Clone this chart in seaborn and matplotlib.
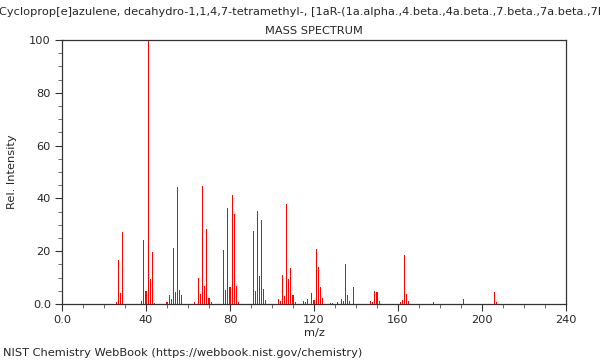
import numpy as np
import pandas as pd
import matplotlib
matplotlib.use("Agg")
import matplotlib.pyplot as plt
import seaborn as sns
from matplotlib.ticker import MultipleLocator, FuncFormatter

compound = ("1H-Cycloprop[e]azulene, decahydro-1,1,4,7-tetramethyl-, "
            "[1aR-(1a.alpha.,4.beta.,4a.beta.,7.beta.,7a.beta.,7b.alpha.)]-")

mz = [26, 27, 28, 29, 38, 39, 40, 41, 42, 43, 44,
      50, 51, 52, 53, 54, 55, 56, 57,
      63, 65, 66, 67, 68, 69, 70, 71,
      77, 78, 79, 80, 81, 82, 83, 84,
      91, 92, 93, 94, 95, 96, 97,
      103, 104, 105, 106, 107, 108, 109, 110, 111,
      115, 116, 117, 119, 120, 121, 122, 123, 124,
      128, 129, 131, 133, 134, 135, 136, 137, 139,
      147, 148, 149, 150, 151,
      161, 162, 163, 164, 165,
      177, 191, 206, 207]
intensity = [0.9, 16.7, 4.3, 27.4, 1.0, 24.2, 5.0, 100.0, 9.5, 19.6, 0.5,
             0.7, 3.4, 1.9, 21.3, 4.5, 44.4, 5.4, 3.4,
             0.8, 9.8, 3.7, 44.8, 6.7, 28.4, 2.3, 0.8,
             20.5, 5.3, 36.4, 6.3, 41.3, 34.1, 6.8, 0.8,
             27.7, 4.9, 35.2, 10.5, 31.8, 5.7, 1.5,
             1.9, 1.0, 11.0, 3.0, 37.9, 9.3, 13.5, 3.5, 0.8,
             1.3, 0.6, 2.0, 4.0, 1.5, 20.8, 14.0, 6.4, 2.3,
             0.5, 0.5, 0.9, 1.8, 1.0, 15.2, 3.5, 1.1, 6.3,
             1.1, 0.7, 4.9, 4.5, 1.0,
             0.7, 1.5, 18.6, 3.8, 1.1,
             0.7, 1.8, 4.5, 0.8]

x_ticks = [0, 40, 80, 120, 160, 200, 240]
y_ticks = [0, 20, 40, 60, 80, 100]

df = pd.DataFrame({"mz": mz, "intensity": intensity})

FS = 8.2
sns.set_theme(style="ticks")
plt.rcParams["font.family"] = ["DejaVu Sans"]
plt.rcParams["font.size"] = FS

fig = plt.figure(figsize=(6, 3.6), dpi=100)
ax = fig.add_axes([62 / 600, 1 - 304 / 360, 504 / 600, 264 / 360])

sns.histplot(data=df, x="mz", weights="intensity", discrete=True, shrink=0.5,
             color="#ff0000", alpha=1.0, linewidth=0, ax=ax)

ax.set_xlim(0, 240)
ax.set_ylim(0, 100)
ax.set_xticks(x_ticks)
ax.set_yticks(y_ticks)
ax.xaxis.set_minor_locator(MultipleLocator(10))
ax.yaxis.set_minor_locator(MultipleLocator(5))
fmt = FuncFormatter(lambda v, p: "0.0" if v == 0 else f"{int(v)}")
ax.xaxis.set_major_formatter(fmt)
ax.yaxis.set_major_formatter(fmt)
ax.tick_params(which="major", length=5, width=0.8, color="#333333", labelsize=FS, pad=3)
ax.tick_params(which="minor", length=3, width=0.6, color="#555555")
for s in ax.spines.values():
    s.set_visible(True)
    s.set_color("#333333")
    s.set_linewidth(0.9)

ax.set_xlabel("m/z", fontsize=FS, labelpad=2)
ax.set_ylabel("Rel. Intensity", fontsize=FS, labelpad=9)
ax.set_title("MASS SPECTRUM", fontsize=FS, pad=4)

fig.text(-21 / 600, 1 - 12 / 360, compound, ha="left", va="center", fontsize=FS)
fig.text(3 / 600, 1 - 353 / 360, "NIST Chemistry WebBook (https://webbook.nist.gov/chemistry)",
         ha="left", va="center", fontsize=FS)

fig.savefig("out.png", dpi=100)
